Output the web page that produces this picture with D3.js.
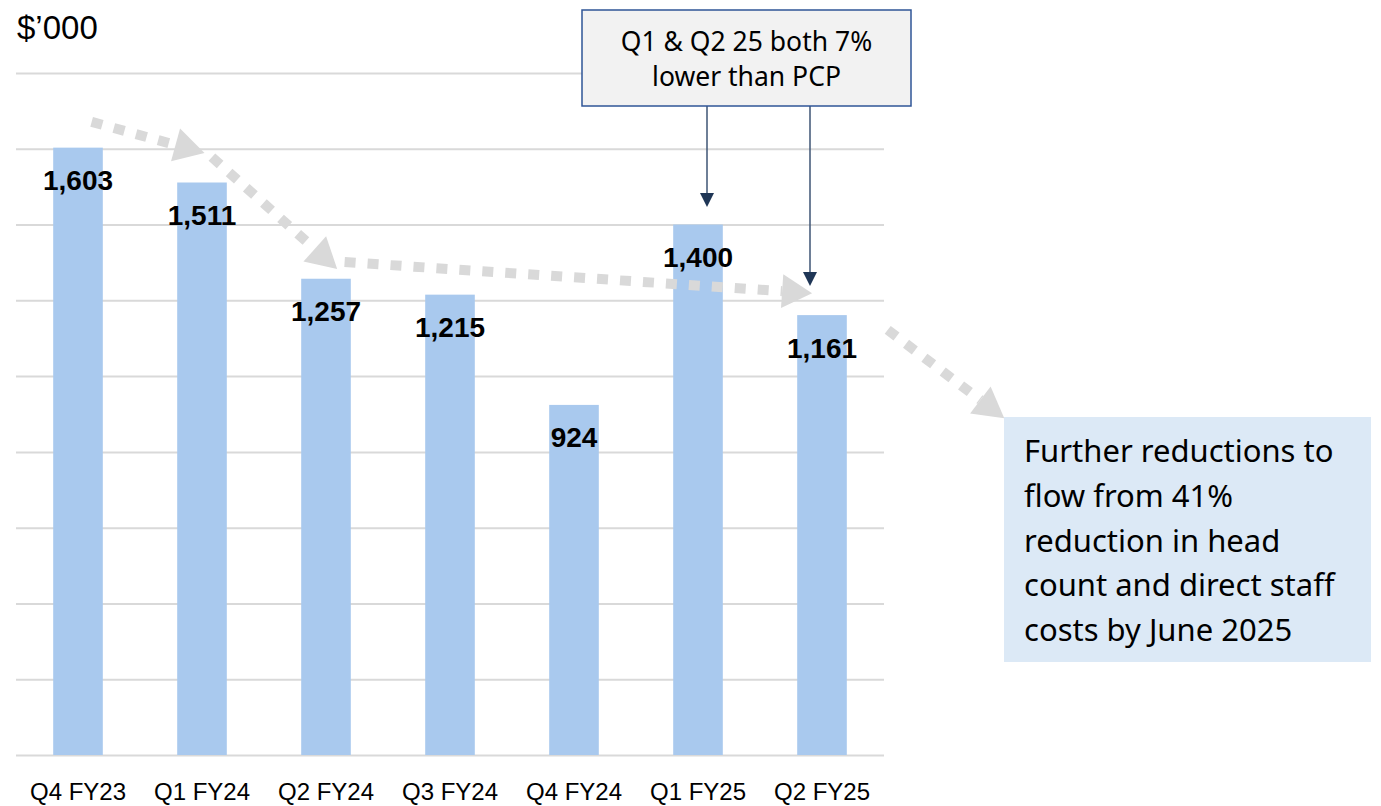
<!DOCTYPE html>
<html>
<head>
<meta charset="utf-8">
<script src="https://cdn.jsdelivr.net/npm/d3@7"></script>
<style>
  html, body { margin: 0; padding: 0; background: #ffffff; }
  svg { display: block; }
</style>
</head>
<body>
<svg id="chart" width="1381" height="806"></svg>
<script>
// Quarterly costs ($'000)
const categories = ["Q4 FY23", "Q1 FY24", "Q2 FY24", "Q3 FY24", "Q4 FY24", "Q1 FY25", "Q2 FY25"];
const values = [1603, 1511, 1257, 1215, 924, 1400, 1161];
const gridTicks = [0, 200, 400, 600, 800, 1000, 1200, 1400, 1600, 1800];
const unitLabel = "$\u2019000";
const calloutLines = ["Q1 & Q2 25 both 7%", "lower than PCP"];
const noteLines = ["Further reductions to", "flow from 41%", "reduction in head", "count and direct staff", "costs by June 2025"];
// Trend arrows in (category index, value) space
const trendArrows = [
  [[0.11, 1671], [1.02, 1589]],
  [[1.08, 1578], [2.09, 1283]],
  [[2.15, 1301], [5.92, 1219]],
  [[6.53, 1122], [7.47, 889]]
];

const svg = d3.select("#chart");
const plotL = 16, plotR = 884, plotT = 73, plotB = 755;

const x = d3.scaleBand().domain(categories).range([plotL, plotR])
  .paddingInner(0.6).paddingOuter(0.3);
const y = d3.scaleLinear().domain([0, 1800]).range([plotB, plotT]);
const xi = d3.scaleLinear().domain([0, 1])
  .range([x(categories[0]) + x.bandwidth() / 2, x(categories[1]) + x.bandwidth() / 2]);

// Gridlines
const grid = svg.append("g").attr("transform", `translate(${plotL},0)`)
  .call(d3.axisLeft(y).tickValues(gridTicks).tickSize(-(plotR - plotL)).tickFormat(""));
grid.select(".domain").remove();
grid.selectAll(".tick line").attr("stroke", "#d9d9d9").attr("stroke-width", 2);

// Bars
svg.append("g").selectAll("rect").data(values).join("rect")
  .attr("x", (d, i) => x(categories[i]))
  .attr("width", x.bandwidth())
  .attr("y", d => y(d))
  .attr("height", d => y(0) - y(d))
  .attr("fill", "#a9c9ee");

// Category axis
const xAxis = svg.append("g").attr("transform", `translate(0,${plotB})`)
  .call(d3.axisBottom(x).tickSize(0).tickPadding(28));
xAxis.select(".domain").remove();
xAxis.selectAll("text")
  .attr("font-family", "Liberation Sans, Arial, sans-serif")
  .attr("font-size", 24)
  .attr("fill", "#000");

// Trend arrows (grey, dotted)
trendArrows.forEach(seg => {
  const [p0, p1] = seg;
  const x0 = xi(p0[0]), y0 = y(p0[1]), x1 = xi(p1[0]), y1 = y(p1[1]);
  const len = Math.hypot(x1 - x0, y1 - y0);
  const ux = (x1 - x0) / len, uy = (y1 - y0) / len;
  const headLen = 30;
  svg.append("line")
    .attr("x1", x0).attr("y1", y0)
    .attr("x2", x1 - ux * headLen).attr("y2", y1 - uy * headLen)
    .attr("stroke", "#d9d9d9").attr("stroke-width", 10)
    .attr("stroke-dasharray", "11 12");
  const px = -uy, py = ux, hw = 17;
  const bx = x1 - ux * headLen, by = y1 - uy * headLen;
  svg.append("path")
    .attr("d", `M${x1},${y1} L${bx + px * hw},${by + py * hw} L${bx - px * hw},${by - py * hw} Z`)
    .attr("fill", "#d9d9d9");
});

// Value labels
svg.append("g").selectAll("text").data(values).join("text")
  .attr("x", (d, i) => x(categories[i]) + x.bandwidth() / 2)
  .attr("y", d => y(d) + 33)
  .attr("text-anchor", "middle")
  .attr("dominant-baseline", "central")
  .attr("font-family", "Liberation Sans, Arial, sans-serif")
  .attr("font-weight", "bold")
  .attr("font-size", 28)
  .attr("fill", "#000")
  .text(d => d3.format(",")(d));

// Unit label
svg.append("text").attr("x", 17).attr("y", 39)
  .attr("font-family", "Liberation Sans, Arial, sans-serif")
  .attr("font-size", 33).attr("fill", "#000")
  .text(unitLabel);

// Callout box with pointers to the FY25 bars
const cb = { x: 582, y: 10, w: 329, h: 96 };
const navy = "#1f3656";
svg.append("line").attr("x1", 707).attr("y1", cb.y + cb.h).attr("x2", 707).attr("y2", 195)
  .attr("stroke", "#3e5575").attr("stroke-width", 1.5);
svg.append("path").attr("d", `M700,193 L714,193 L707,207 Z`).attr("fill", navy);
svg.append("line").attr("x1", 810).attr("y1", cb.y + cb.h).attr("x2", 810).attr("y2", 274)
  .attr("stroke", "#3e5575").attr("stroke-width", 1.5);
svg.append("path").attr("d", `M803,272 L817,272 L810,286 Z`).attr("fill", navy);

svg.append("rect").attr("x", cb.x).attr("y", cb.y).attr("width", cb.w).attr("height", cb.h)
  .attr("fill", "#f2f2f2").attr("stroke", "#2f5597").attr("stroke-width", 1.5);
svg.append("g").selectAll("text").data(calloutLines).join("text")
  .attr("x", cb.x + cb.w / 2)
  .attr("y", (d, i) => 51 + i * 35)
  .attr("text-anchor", "middle")
  .attr("font-family", "Noto Sans, sans-serif")
  .attr("font-size", 26.5).attr("fill", "#000")
  .text(d => d);

// Note box
const nb = { x: 1004, y: 417, w: 367, h: 245 };
svg.append("rect").attr("x", nb.x).attr("y", nb.y).attr("width", nb.w).attr("height", nb.h)
  .attr("fill", "#dce9f6");
svg.append("g").selectAll("text").data(noteLines).join("text")
  .attr("x", 1024)
  .attr("y", (d, i) => 462 + i * 44.8)
  .attr("font-family", "Noto Sans, sans-serif")
  .attr("font-size", 31).attr("fill", "#000")
  .text(d => d);
</script>
</body>
</html>
